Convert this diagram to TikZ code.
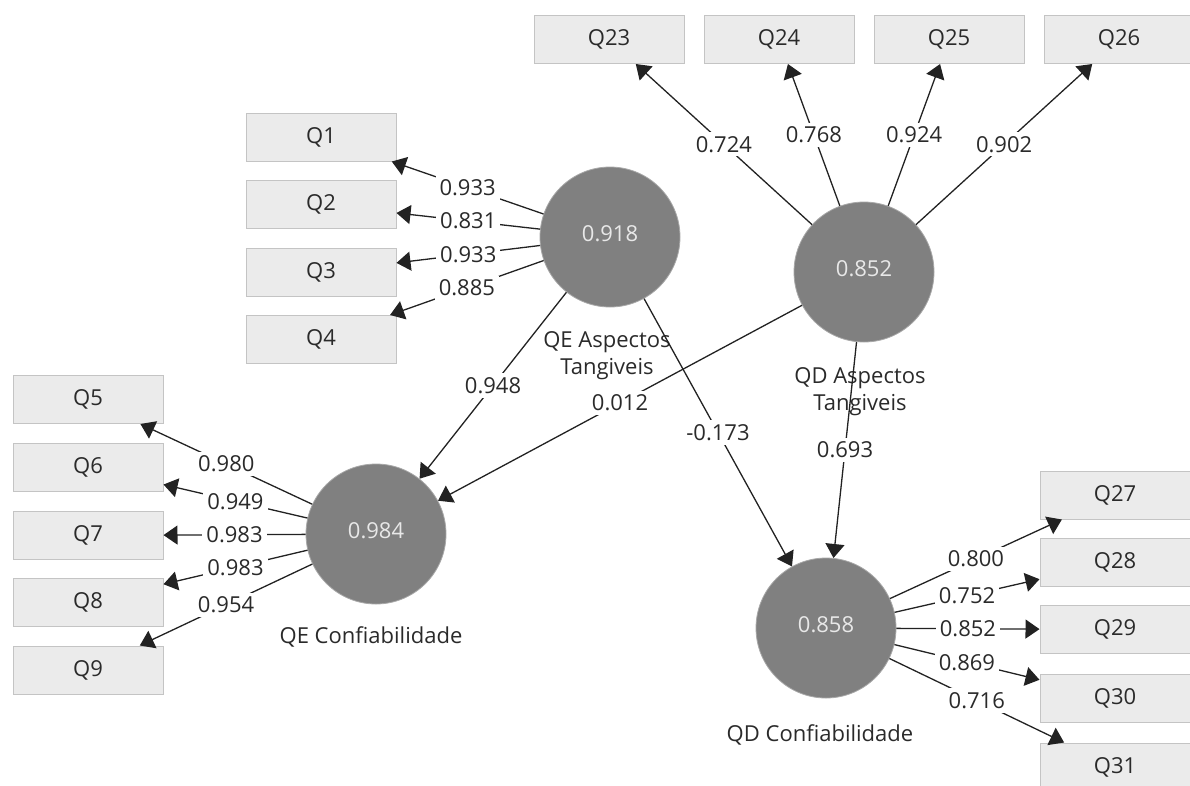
\documentclass[tikz,border=0pt]{standalone}
\usepackage{fontspec}
\setmainfont{Open Sans}
\usetikzlibrary{arrows.meta}
\definecolor{boxfill}{HTML}{EBEBEB}
\definecolor{boxborder}{HTML}{C4C4C4}
\definecolor{latfill}{HTML}{808080}
\definecolor{latborder}{HTML}{A8A8A8}
\definecolor{valtext}{HTML}{E8E8E8}
\definecolor{linecol}{HTML}{222222}
\definecolor{txtcol}{HTML}{2A2A2A}
\newcommand{\fsz}{\fontsize{22}{27}\selectfont}
\tikzset{
  ind/.style={draw=boxborder, line width=1pt, fill=boxfill, minimum width=150pt, minimum height=48pt, inner sep=0pt, font=\fsz, text=txtcol},
  lat/.style={circle, fill=latfill, draw=latborder, line width=0.8pt, minimum size=140pt, inner sep=0pt, font=\fsz, text=valtext},
  latname/.style={font=\fsz, text=txtcol, align=center, inner sep=0pt},
  wlbl/.style={fill=white, inner sep=4pt, font=\fsz, text=txtcol},
  arr/.style={-{Triangle[length=14pt,width=19pt]}, line width=1.3pt, draw=linecol},
}
\begin{document}
\begin{tikzpicture}[x=1pt,y=-1pt]
\useasboundingbox (0,0) rectangle (1190,785);
\clip (0,0) rectangle (1190,785);
% indicator boxes
\node[ind] (q1) at (321,137) {Q1};
\node[ind] (q2) at (321,204.5) {Q2};
\node[ind] (q3) at (321,272) {Q3};
\node[ind] (q4) at (321,339.5) {Q4};
\node[ind] (q5) at (88,399.5) {Q5};
\node[ind] (q6) at (88,467) {Q6};
\node[ind] (q7) at (88,535.5) {Q7};
\node[ind] (q8) at (88,602) {Q8};
\node[ind] (q9) at (88,670) {Q9};
\node[ind] (q23) at (609,39.5) {Q23};
\node[ind] (q24) at (779,39.5) {Q24};
\node[ind] (q25) at (949,39.5) {Q25};
\node[ind] (q26) at (1119,39.5) {Q26};
\node[ind] (q27) at (1115,495) {Q27};
\node[ind] (q28) at (1115,562) {Q28};
\node[ind] (q29) at (1115,629.5) {Q29};
\node[ind] (q30) at (1115,698) {Q30};
\node[ind] (q31) at (1115,767) {Q31};
% latent variables
\node[lat] (qea) at (610,237) {\raisebox{6pt}{0.918}};
\node[lat] (qda) at (864,272) {\raisebox{6pt}{0.852}};
\node[lat] (qec) at (376,534) {\raisebox{6pt}{0.984}};
\node[lat] (qdc) at (826,628) {\raisebox{6pt}{0.858}};
% latent names
\node[latname] (nqea) at (607,356) {QE Aspectos\\Tangiveis};
\node[latname] (nqda) at (860,392) {QD Aspectos\\Tangiveis};
\node[latname] (nqec) at (371,637) {QE Confiabilidade};
\node[latname] (nqdc) at (820,735) {QD Confiabilidade};
% outer loadings
\draw[arr] (qea) -- node[wlbl]{0.933} (q1);
\draw[arr] (qea) -- node[wlbl]{0.831} (q2);
\draw[arr] (qea) -- node[wlbl]{0.933} (q3);
\draw[arr] (qea) -- node[wlbl]{0.885} (q4);
\draw[arr] (qec) -- node[wlbl]{0.980} (q5);
\draw[arr] (qec) -- node[wlbl]{0.949} (q6);
\draw[arr] (qec) -- node[wlbl]{0.983} (q7);
\draw[arr] (qec) -- node[wlbl]{0.983} (q8);
\draw[arr] (qec) -- node[wlbl]{0.954} (q9);
\draw[arr] (qda) -- node[wlbl]{0.724} (q23);
\draw[arr] (qda) -- node[wlbl]{0.768} (q24);
\draw[arr] (qda) -- node[wlbl]{0.924} (q25);
\draw[arr] (qda) -- node[wlbl]{0.902} (q26);
\draw[arr] (qdc) -- node[wlbl]{0.800} (q27);
\draw[arr] (qdc) -- node[wlbl]{0.752} (q28);
\draw[arr] (qdc) -- node[wlbl]{0.852} (q29);
\draw[arr] (qdc) -- node[wlbl]{0.869} (q30);
\draw[arr] (qdc) -- node[wlbl]{0.716} (q31);
% path coefficients
\draw[arr] (qea) -- node[wlbl]{0.948} (qec);
\draw[arr] (qda) -- node[wlbl]{0.012} (qec);
\draw[arr] (qea) -- node[wlbl]{-0.173} (qdc);
\draw[arr] (qda) -- node[wlbl]{0.693} (qdc);
\end{tikzpicture}
\end{document}
